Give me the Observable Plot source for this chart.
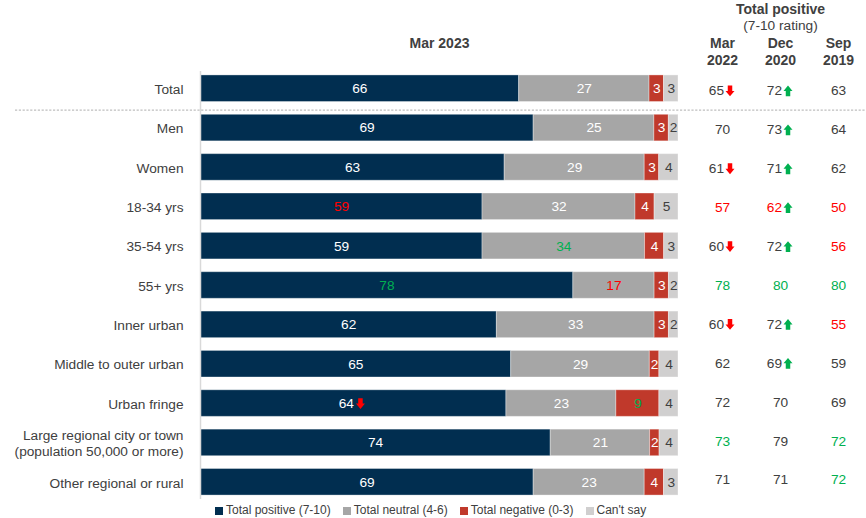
<!DOCTYPE html>
<html>
<head>
<meta charset="utf-8">
<script src="https://cdn.jsdelivr.net/npm/d3@7"></script>
<script src="https://cdn.jsdelivr.net/npm/@observablehq/plot@0.6"></script>
<style>
  html, body { margin: 0; padding: 0; background: #fff; overflow: hidden; }
  body { font-family: "Liberation Sans", Arial, sans-serif; color: #404040; }
  #wrap { position: relative; width: 866px; height: 500px; }
  #wrap svg { position: absolute; left: 0; top: 0; overflow: visible; }
  #legend { display: flex; gap: 12px; padding-left: 215px; padding-top: 3px; height: 15px; line-height: 15px; font-size: 12px; color: #404040; }
  #legend span.item { display: inline-flex; align-items: center; white-space: nowrap; }
  #legend span.sw { display: inline-block; width: 8px; height: 8px; margin-right: 3px; }
</style>
</head>
<body>
<div id="wrap"></div>
<div id="legend"></div>
<script>
// ---------- data ----------
const categories = [
  "Total", "Men", "Women", "18-34 yrs", "35-54 yrs", "55+ yrs",
  "Inner urban", "Middle to outer urban", "Urban fringe",
  "Large regional city or town\n(population 50,000 or more)",
  "Other regional or rural"
];
const seriesNames = ["Total positive (7-10)", "Total neutral (4-6)", "Total negative (0-3)", "Can't say"];
const positive = [66, 69, 63, 59, 59, 78, 62, 65, 64, 74, 69];
const neutral  = [27, 25, 29, 32, 34, 17, 33, 29, 23, 21, 23];
const negative = [3, 3, 3, 4, 4, 3, 3, 2, 9, 2, 4];
const cantSay  = [3, 2, 4, 5, 3, 2, 2, 4, 4, 4, 3];
// significance markers on the Mar 2023 bar labels: "low" = red text, "high" = green text
const positiveTone = ["", "", "", "low", "", "high", "", "", "", "", ""];
const positiveArrow = ["", "", "", "", "", "", "", "", "down", "", ""];
const neutralTone  = ["", "", "", "", "high", "low", "", "", "", "", ""];
const negativeTone = ["", "", "", "", "", "", "", "", "high", "", ""];

const barHeader = "Mar 2023";
const tableTitle = "Total positive";
const tableSubtitle = "(7-10 rating)";
const tableCols = ["Mar 2022", "Dec 2020", "Sep 2019"];
const mar2022 = [65, 70, 61, 57, 60, 78, 60, 62, 72, 73, 71];
const mar2022Tone = ["", "", "", "low", "", "high", "", "", "", "high", ""];
const mar2022Arrow = ["down", "", "down", "", "down", "", "down", "", "", "", ""];
const dec2020 = [72, 73, 71, 62, 72, 80, 72, 69, 70, 79, 71];
const dec2020Tone = ["", "", "", "low", "", "high", "", "", "", "", ""];
const dec2020Arrow = ["up", "up", "up", "up", "up", "", "up", "up", "", "", ""];
const sep2019 = [63, 64, 62, 50, 56, 80, 55, 59, 69, 72, 72];
const sep2019Tone = ["", "", "", "low", "low", "high", "low", "", "", "high", "high"];

// ---------- styles ----------
const seriesColors = ["#012e50", "#a6a6a6", "#c0392b", "#d0cfcf"];
const labelColors = ["#ffffff", "#ffffff", "#ffffff", "#404040"];
const TEXT = "#404040", RED = "#ff0000", GREEN = "#00b050";
const toneColor = (tone, base) => tone === "low" ? RED : tone === "high" ? GREEN : base;
const FONT = "Liberation Sans, Arial, sans-serif";

// ---------- build rows ----------
const seriesValues = [positive, neutral, negative, cantSay];
const blank = categories.map(() => "");
const seriesTones = [positiveTone, neutralTone, negativeTone, blank];
const seriesArrows = [positiveArrow, blank, blank, blank];
const rows = [];
categories.forEach((c, i) => {
  seriesNames.forEach((s, j) => {
    rows.push({
      category: c, series: s, value: seriesValues[j][i],
      color: toneColor(seriesTones[j][i], labelColors[j]),
      arrow: seriesArrows[j][i]
    });
  });
});
const tableRows = [];
const tableVals = [mar2022, dec2020, sep2019];
const tableTones = [mar2022Tone, dec2020Tone, sep2019Tone];
const tableArrows = [mar2022Arrow, dec2020Arrow, blank];
categories.forEach((c, i) => {
  tableCols.forEach((col, j) => {
    tableRows.push({
      category: c, col, value: tableVals[j][i],
      color: toneColor(tableTones[j][i], TEXT),
      arrow: tableArrows[j][i]
    });
  });
});

// arrow symbols
const arrowSymbol = (dir) => ({
  draw(ctx, size) {
    const r = Math.sqrt(size / Math.PI);
    const h = r * 1.2, s = r * 0.5, k = dir === "down" ? 1 : -1;
    ctx.moveTo(-s, -k * h);
    ctx.lineTo(s, -k * h);
    ctx.lineTo(s, 0);
    ctx.lineTo(r, 0);
    ctx.lineTo(0, k * h);
    ctx.lineTo(-r, 0);
    ctx.lineTo(-s, 0);
    ctx.closePath();
  }
});

const yScale = { domain: categories, paddingInner: 0.325, paddingOuter: 0.1, align: 0.5, round: false };
const common = { width: 866, height: 500, marginTop: 71, marginBottom: 1 };

// ---------- main stacked bars ----------
const stackOpts = (o) => Plot.stackX({ x: "value", y: "category", offset: "normalize", ...o });
const main = Plot.plot({
  ...common,
  marginLeft: 200, marginRight: 188,
  style: { fontFamily: FONT, fontSize: "13.7px", color: TEXT, background: "transparent" },
  x: { domain: [0, 1], axis: null },
  y: { ...yScale, label: null },
  color: { domain: seriesNames, range: seriesColors },
  marks: [
    Plot.axisY({ tickSize: 0, tickPadding: 17, label: null, fontSize: 13.7, fill: TEXT, lineHeight: 1.2 }),
    Plot.barX(rows, stackOpts({ fill: "series", stroke: "#ffffff", strokeOpacity: 0.35, strokeWidth: 1 })),
    Plot.ruleX([0], { stroke: "#d9d9d9", strokeWidth: 1.5 }),
    Plot.text(rows, stackOpts({
      text: d => d.arrow ? "" : String(d.value),
      fill: { value: d => d.color, scale: null },
      fontSize: 13.7
    })),
    Plot.text(rows, stackOpts({
      text: d => d.arrow ? String(d.value) : "",
      fill: { value: d => d.color, scale: null },
      textAnchor: "end", dx: 0.5, fontSize: 13.7
    })),
    Plot.dot(rows, stackOpts({
      symbol: arrowSymbol("down"), r: 4.5,
      fill: { value: d => d.arrow === "down" ? RED : "none", scale: null },
      stroke: "none", dx: 7
    })),
    Plot.text([barHeader], { x: () => 0.5, frameAnchor: "top", lineAnchor: "middle", dy: -27.5, text: d => d, fontWeight: "bold", fontSize: 14, fill: TEXT })
  ]
});

// ---------- right-hand table ----------
const table = Plot.plot({
  ...common,
  marginLeft: 15, marginRight: 0,
  style: { fontFamily: FONT, fontSize: "13.7px", color: TEXT, background: "transparent" },
  x: { type: "point", domain: tableCols, range: [722, 838], padding: 0 },
  y: { ...yScale, axis: null },
  marks: [
    Plot.ruleY(["Men"], { dy: -19.7, stroke: "#bfbfbf", strokeWidth: 1.2, strokeDasharray: "2.2,1.6" }),
    Plot.axisX({ anchor: "top", tickSize: 0, tickPadding: 7, label: null, fontWeight: "bold", fontSize: 14, fill: TEXT, lineHeight: 1.18, tickFormat: d => d.replace(" ", "\n") }),
    Plot.text([tableTitle], { x: () => "Dec 2020", frameAnchor: "top", lineAnchor: "middle", dy: -61.5, text: d => d, fontWeight: "bold", fontSize: 14, fill: TEXT }),
    Plot.text([tableSubtitle], { x: () => "Dec 2020", frameAnchor: "top", lineAnchor: "middle", dy: -46, text: d => d, fontSize: 13.7, fill: TEXT }),
    Plot.text(tableRows.filter(d => !d.arrow), { x: "col", y: "category", text: d => String(d.value), fill: { value: d => d.color, scale: null }, fontSize: 13.7 }),
    Plot.text(tableRows.filter(d => d.arrow), { x: "col", y: "category", text: d => String(d.value), fill: { value: d => d.color, scale: null }, textAnchor: "end", dx: 1.5, fontSize: 13.7 }),
    Plot.dot(tableRows.filter(d => d.arrow === "down"), { x: "col", y: "category", symbol: arrowSymbol("down"), r: 4.5, fill: RED, stroke: "none", dx: 7.5 }),
    Plot.dot(tableRows.filter(d => d.arrow === "up"), { x: "col", y: "category", symbol: arrowSymbol("up"), r: 4.5, fill: GREEN, stroke: "none", dx: 7.5 })
  ]
});

const wrap = document.getElementById("wrap");
wrap.appendChild(main);
wrap.appendChild(table);

// ---------- legend ----------
const legend = document.getElementById("legend");
seriesNames.forEach((s, i) => {
  const item = document.createElement("span");
  item.className = "item";
  const sw = document.createElement("span");
  sw.className = "sw";
  sw.style.background = seriesColors[i];
  item.appendChild(sw);
  item.appendChild(document.createTextNode(s));
  legend.appendChild(item);
});
</script>
</body>
</html>
